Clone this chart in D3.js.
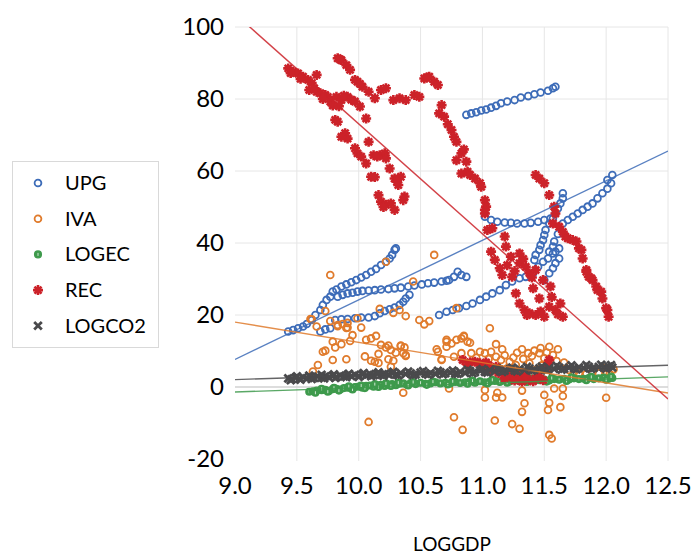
<!DOCTYPE html>
<html>
<head>
<meta charset="utf-8">
<script src="https://cdn.jsdelivr.net/npm/d3@7"></script>
<style>
  body { margin: 0; background: #fff; }
  text { font-family: Lato, "Open Sans", sans-serif; fill: #000; }
</style>
</head>
<body>
<svg id="scatter" width="695" height="557"></svg>
<script>
// series names (legend order)
var seriesNames = ["UPG", "IVA", "LOGEC", "REC", "LOGCO2"];

var xTicks = [9.0, 9.5, 10.0, 10.5, 11.0, 11.5, 12.0, 12.5];
var yTicks = [-20, 0, 20, 40, 60, 80, 100];

// UPG points [LOGGDP, value]
var upgPoints = [
  [9.43,15.4],[9.47,15.8],[9.51,16.3],[9.55,16.8],[9.58,17.5],[9.62,18.6],[9.65,20.0],[9.69,21.4],[9.71,22.8],
  [9.74,24.2],[9.77,25.1],[9.79,26.5],[9.82,27.1],[9.86,27.9],[9.90,28.5],[9.94,29.1],[9.98,29.7],[10.02,30.4],
  [10.06,31.1],[10.10,32.0],[10.14,32.8],[10.18,33.9],[10.22,34.8],[10.25,35.7],[10.27,36.7],[10.29,38.1],[10.30,38.5],
  [9.83,25.1],[9.87,25.6],[9.91,26.0],[9.95,26.2],[9.99,26.5],[10.03,26.7],[10.08,26.8],[10.13,26.9],[10.18,27.1],
  [10.24,27.2],[10.29,27.4],[10.34,27.6],[10.40,27.9],[10.45,28.2],[10.51,28.5],[10.56,28.8],[10.61,29.0],[10.67,29.3],
  [10.71,29.5],[10.73,29.7],[10.77,30.6],[10.80,32.0],[10.83,31.1],[10.87,30.6],
  [9.69,15.4],[9.73,16.0],[9.77,16.3],[9.81,18.6],[9.86,18.8],[9.91,18.9],[9.97,19.1],[10.02,19.3],[10.08,19.3],
  [10.13,19.7],[10.17,20.5],[10.21,21.1],[10.25,21.6],[10.29,22.1],[10.33,22.8],[10.36,23.7],[10.38,24.6],[10.41,25.6],
  [10.65,20.0],[10.71,20.9],[10.76,21.4],[10.81,21.9],[10.87,22.5],[10.92,23.2],[10.98,24.2],[11.03,25.1],[11.08,26.0],
  [11.14,26.9],[11.19,28.3],[11.24,29.3],[11.30,30.2],[11.35,30.6],[11.41,31.6],[11.45,33.4],[11.49,34.8],[11.53,35.7],
  [11.57,37.1],[11.59,37.6],[11.62,38.5],
  [11.42,35.3],[11.43,36.7],[11.46,38.1],[11.47,39.4],[11.49,40.8],[11.50,42.2],[11.51,43.6],[11.54,45.4],[11.57,46.8],
  [11.59,48.2],[11.61,49.6],[11.63,51.0],[11.65,52.4],[11.65,53.8],
  [11.50,29.7],[11.54,31.6],[11.57,33.0],[11.59,34.4],[11.62,35.7],[11.54,37.6],[11.57,39.0],[11.58,40.4],[11.61,42.5],
  [11.65,45.4],[11.69,46.4],[11.73,47.3],[11.77,48.2],[11.81,49.2],[11.85,50.1],[11.89,51.0],[11.93,52.4],[11.97,53.8],
  [12.01,55.1],[12.04,56.6],[12.01,57.5],[12.05,58.9],
  [11.02,47.3],[11.07,46.4],[11.12,45.9],[11.18,45.7],[11.23,45.6],[11.28,45.4],[11.34,45.4],[11.39,45.6],[11.45,45.9],
  [11.50,46.4],[11.55,46.8],
  [10.87,75.6],[10.91,76.0],[10.95,76.3],[10.99,76.8],[11.03,77.1],[11.07,77.6],[11.11,78.1],[11.15,78.8],[11.20,79.3],
  [11.26,79.7],[11.31,80.4],[11.37,80.8],[11.42,81.3],[11.47,81.8],[11.53,82.3],[11.57,83.0],[11.59,83.4]
];

// IVA points
var ivaPoints = [
  [9.77,31.1],[10.61,36.7],[10.22,34.8],[10.44,29.3],[9.73,21.1],[9.62,18.8],[9.66,16.8],[9.77,18.3],[9.99,19.1],
  [10.02,16.5],[10.17,21.7],[10.28,20.6],[10.33,21.4],[10.38,19.7],[10.49,18.6],[10.53,17.4],[10.57,18.3],[9.83,16.9],
  [9.87,17.5],[9.91,16.5],[9.95,14.4],[9.93,12.8],[9.86,11.9],[9.81,11.0],[9.73,10.1],[9.71,9.8],[10.06,13.1],
  [10.10,13.5],[10.14,14.2],[10.18,11.7],[10.22,11.0],[10.26,10.3],[10.30,9.5],[10.34,11.4],[10.37,11.0],[10.36,9.4],
  [10.38,8.6],[10.24,7.7],[10.28,7.3],[10.26,5.6],[10.16,9.2],[10.05,8.5],[10.10,7.3],[10.13,7.0],[10.16,6.7],
  [9.90,7.7],[9.79,7.5],[9.67,6.1],[9.63,4.3],[10.36,-1.6],[10.08,-9.7],[10.63,10.5],[10.67,7.7],[10.71,13.1],
  [9.90,16.4],[9.91,17.8],[9.83,17.2],[9.61,18.9],[9.79,12.6],[10.24,11.5],[10.34,11.5],[10.38,8.9],
  [10.79,21.9],[10.85,14.0],[10.88,12.6],[10.77,-8.4],[10.84,-11.9],[10.73,-0.4],
  [11.06,16.3],[10.64,9.8],[10.71,12.6],[10.71,11.2],[10.75,12.1],[10.79,13.1],[10.83,13.5],[10.85,14.2],[10.90,12.3],
  [10.67,7.5],[10.77,8.4],[10.83,9.4],[10.91,9.4],[10.98,9.8],[11.02,9.4],[11.07,9.8],[11.11,11.9],[11.16,10.5],
  [11.11,8.4],[11.15,7.5],[11.22,7.0],[11.28,9.5],[11.32,10.5],[11.37,9.4],[11.42,10.1],[11.46,9.4],[11.54,11.2],
  [11.61,10.5],[11.50,8.0],[11.57,8.9],[11.38,6.6],[11.27,6.1],[11.43,4.7],[11.70,4.7],[11.78,3.8],[11.89,4.3],
  [11.94,3.8],[12.06,4.9],[12.00,4.3],[11.02,-0.8],[11.02,-2.9],[11.12,-1.6],[11.16,-2.9],[11.11,-2.9],[11.32,-1.0],
  [11.34,-4.5],[11.32,-6.9],[11.50,-2.2],[11.54,-4.4],[11.53,-6.4],[11.58,-0.4],[11.65,-0.4],[11.65,-2.5],[11.63,-5.6],
  [12.00,-3.0],[11.10,-9.3],[11.24,-10.3],[11.30,-11.6],[11.54,-13.3],[11.56,-14.3],[11.35,3.8],[11.20,5.2],[11.48,6.0],
  [11.18,8.8],[11.25,8.2],[11.33,7.8],[11.40,8.6],[11.47,10.8],[11.52,9.6],[11.60,7.2],[11.05,7.8],[10.95,8.1],
  [11.74,4.2],[11.84,3.6],[11.98,5.2],[12.03,3.6],[11.66,6.8]
];

// LOGEC points
var logecPoints = [
  [9.60,-1.3],[9.63,-1.2],[9.66,-1.0],[9.70,-0.9],[9.73,-0.8],[9.76,-1.1],[9.79,-0.6],[9.82,-0.5],[9.85,-0.7],
  [9.88,-0.3],[9.91,-0.2],[9.94,-0.4],[9.97,0.0],[10.00,0.1],[10.03,-0.2],[10.06,0.3],[10.09,0.4],[10.12,0.1],
  [10.15,0.5],[10.18,0.6],[10.21,0.3],[10.24,0.7],[10.27,0.8],[10.30,0.5],[10.33,0.9],[10.36,1.0],[10.39,0.6],
  [10.42,1.1],[10.46,0.8],[10.50,1.2],[10.54,0.9],[10.58,1.0],[10.62,1.3],[10.66,1.0],[10.70,1.2],[10.74,1.0],
  [10.78,1.4],[10.82,1.1],[10.86,1.3],[10.90,1.5],[10.94,1.2],[10.98,1.6],[11.02,1.3],[11.06,1.5],[11.10,1.7],
  [11.14,1.4],[11.18,1.8],[11.22,1.5],[11.26,1.9],[11.30,1.6],[11.34,1.7],[11.38,2.0],[11.42,1.8],[11.46,1.9],
  [11.50,2.1],[11.54,1.8],[11.58,2.2],[11.62,2.0],[11.66,2.3],[11.70,2.1],[11.74,2.4],[11.78,2.2],[11.82,2.3],
  [11.86,2.5],[11.90,2.2],[11.94,2.4],[11.98,2.6],[12.02,2.3],[12.05,2.5],
  [9.65,-1.6],[9.75,-1.3],[9.84,-1.0],[9.95,-0.7],[10.05,-0.3],[10.16,0.0],[10.26,0.3],[10.40,0.4],[10.55,0.6],
  [10.72,0.7],[10.88,0.9],[11.04,1.0],[11.20,1.2],[11.36,1.4],[11.52,1.5],[11.68,1.7],[11.84,1.9],[12.00,2.0],
  [9.70,-0.5],[9.80,-0.2],[9.92,0.2],[10.02,0.4],[10.13,0.8],[10.22,1.0],[10.32,1.2],[10.44,1.4],[10.60,1.5],
  [10.76,1.6],[10.92,1.8],[11.08,2.0],[11.24,2.2],[11.40,2.4],[11.56,2.5],[11.72,2.7],[11.88,2.8],[12.04,2.9]
];

// REC points
var recPoints = [
  [9.43,88.5],[9.47,87.6],[9.51,87.1],[9.55,86.2],[9.59,85.3],[9.62,84.4],[9.60,82.5],[9.66,82.0],[9.69,81.6],
  [9.73,81.1],[9.75,80.6],[9.77,79.3],[9.66,86.7],[9.82,80.6],[9.86,79.7],[9.91,80.6],[9.45,87.2],[9.53,85.6],
  [9.64,83.0],[9.71,80.0],[9.79,78.2],[9.84,78.0],[9.88,80.9],[9.94,79.8],
  [9.83,91.3],[9.86,90.8],[9.90,89.4],[9.93,88.1],[9.97,85.3],[9.99,84.8],[10.03,83.4],[10.08,82.0],[10.13,80.2],
  [10.18,82.5],[10.22,83.0],[10.28,79.7],[10.33,80.2],[10.38,79.7],[10.45,81.1],[10.49,80.6],[10.53,85.7],[10.57,86.2],
  [10.61,84.8],[10.64,83.9],[9.97,79.3],[10.01,77.9],[9.85,91.0],[10.01,84.2],[10.55,86.0],
  [10.67,78.3],[10.65,76.0],[10.69,75.1],[10.75,71.4],[10.77,69.5],[10.79,68.1],[10.83,64.9],[10.79,63.0],[10.87,62.6],
  [10.83,59.3],[10.88,59.8],[10.90,58.9],[10.94,57.9],[10.98,56.6],[10.99,55.6],[11.02,51.9],[11.03,50.1],[11.02,48.2],
  [11.02,49.2],[11.04,43.6],[11.08,44.1],[11.18,41.8],[11.19,39.0],[11.07,37.6],[11.10,35.3],[11.14,33.0],[11.16,31.1],
  [11.24,30.6],[11.23,36.2],[11.30,37.1],[11.30,34.4],[11.35,33.4],[11.38,31.6],[11.43,32.5],[11.41,27.4],[11.27,26.0],
  [11.30,23.2],[11.34,21.4],[11.38,20.5],[11.43,20.0],[11.50,19.5],[11.54,22.3],[11.55,27.9],[11.59,21.4],[11.63,23.2],
  [11.65,19.5],[11.49,29.7],[11.46,24.6],[11.20,33.8],[11.26,32.2],[11.33,35.6],[11.40,30.4],[11.36,20.0],[11.47,21.0],
  [11.56,25.0],[11.61,20.2],[10.85,66.0],[10.72,73.0],
  [11.43,58.9],[11.46,57.9],[11.50,56.6],[11.54,53.3],[11.58,50.1],[11.59,48.2],[11.57,45.4],[11.62,44.5],[11.67,41.8],
  [11.65,43.1],[11.69,41.3],[11.76,40.4],[11.78,38.5],[11.81,35.7],[11.84,32.5],[11.86,30.6],[11.89,29.7],[11.92,27.9],
  [11.96,26.5],[11.97,24.6],[12.01,21.4],[12.02,19.5],[11.73,40.8],[11.80,38.1],[11.84,32.0],[11.88,30.2],[11.93,26.9],
  [12.00,21.9],
  [9.81,74.2],[9.83,73.7],[10.06,74.6],[9.89,70.5],[9.91,69.0],[9.86,69.5],[9.97,66.3],[9.99,64.9],[10.02,64.0],
  [10.06,62.1],[10.08,68.1],[10.12,64.4],[10.17,64.4],[10.21,64.9],[10.22,63.5],[10.25,60.7],[10.10,58.4],[10.13,58.3],
  [10.29,57.9],[10.34,58.4],[10.32,56.1],[10.16,53.3],[10.18,51.5],[10.22,50.6],[10.26,51.0],[10.29,49.2],[10.36,51.9],
  [10.37,52.9],[10.15,64.0],[10.31,57.0],[10.20,50.0],
  [10.84,7.5],[10.90,6.9],[10.98,6.6],[11.05,6.0],[11.11,5.6],[11.19,3.3],[11.24,2.9],[11.32,1.5],[11.38,1.9],
  [11.43,2.4],[11.49,1.9],[11.53,6.6],[11.54,7.5],[11.28,3.6],[11.15,4.4],[10.88,6.2],[10.94,7.0],[11.00,5.4],
  [11.08,4.6],[11.13,3.9],[11.22,4.1],[11.30,2.6],[11.35,3.2],[11.41,1.6],[11.46,3.0],[11.52,5.2],[11.18,2.4],
  [11.26,1.8],[11.03,6.8]
];

// LOGCO2 points
var logco2Points = [
  [9.43,2.4],[9.46,2.2],[9.49,2.6],[9.52,2.3],[9.55,2.7],[9.58,2.4],[9.61,2.8],[9.64,2.5],[9.67,2.9],[9.70,2.6],
  [9.73,3.0],[9.76,2.7],[9.79,3.1],[9.82,2.8],[9.85,3.2],[9.88,2.9],[9.91,3.3],[9.94,3.0],[9.97,3.4],[10.00,3.1],
  [10.03,3.5],[10.06,3.2],[10.09,3.6],[10.12,3.3],[10.15,3.7],[10.18,3.4],[10.21,3.6],[10.24,3.5],[10.27,3.8],
  [10.30,3.4],[10.34,3.9],[10.38,3.6],[10.42,3.8],[10.46,3.5],[10.50,4.0],[10.54,3.7],[10.58,3.9],[10.62,3.6],
  [10.66,4.1],[10.70,3.8],[10.74,4.0],[10.78,3.7],[10.82,4.2],[10.86,3.9],[10.90,4.4],[10.94,4.1],[10.98,4.6],
  [11.02,4.2],[11.06,4.7],[11.10,4.4],[11.14,4.8],[11.18,4.5],[11.22,4.9],[11.26,4.6],[11.30,5.0],[11.34,4.7],
  [11.38,5.1],[11.42,4.8],[11.46,5.2],[11.50,4.9],[11.54,5.3],[11.58,5.0],[11.62,5.4],[11.66,5.1],[11.70,5.4],
  [11.74,5.2],[11.78,5.5],[11.82,5.2],[11.86,5.6],[11.90,5.3],[11.94,5.6],[11.98,5.4],[12.02,5.7],[12.05,5.4],
  [9.45,1.9],[9.53,2.0],[9.62,2.2],[9.72,2.4],[9.81,2.5],[9.90,2.7],[10.00,2.8],[10.10,3.0],[10.20,3.1],
  [10.32,3.2],[10.44,3.3],[10.56,3.4],[10.68,3.5],[10.80,3.6],[10.92,3.8],[11.04,4.0],[11.16,4.2],[11.28,4.3],
  [11.40,4.5],[11.52,4.6],[11.64,4.8],[11.76,4.9],[11.88,5.0],[12.00,5.1],
  [9.50,3.0],[9.60,3.2],[9.70,3.4],[9.80,3.5],[9.92,3.7],[10.04,3.9],[10.16,4.1],[10.28,4.2],[10.40,4.3],
  [10.52,4.4],[10.64,4.5],[10.76,4.6],[10.88,4.8],[11.00,5.0],[11.12,5.2],[11.24,5.4],[11.36,5.6],[11.48,5.7],
  [11.60,5.9],[11.72,6.0],[11.84,6.1],[11.96,6.2],[12.04,6.1]
];

// linear trendlines: value = intercept + slope * LOGGDP
var trendIntercept = [-141.2, 68.7, -12.2, 378.7, -8.2];
var trendSlope = [16.54, -5.63, 1.2, -30.56, 1.14];

var colors = ["#3d6cb8", "#e07b2c", "#3e9a4c", "#cc2229", "#4a4a4c"];
var allPoints = [upgPoints, ivaPoints, logecPoints, recPoints, logco2Points];

var svg = d3.select("#scatter");

var x = d3.scaleLinear().domain([9, 12.5]).range([235, 668]);
var y = d3.scaleLinear().domain([-20, 100]).range([459, 27]);

// clip for the trendlines
svg.append("clipPath").attr("id", "plotclip")
  .append("rect")
  .attr("x", x(9)).attr("y", y(100))
  .attr("width", x(12.5) - x(9)).attr("height", y(-20) - y(100));

// gridlines
svg.append("g")
  .selectAll("line.vg")
  .data(xTicks.slice(1))
  .join("line")
  .attr("x1", d => x(d)).attr("x2", d => x(d))
  .attr("y1", y(100)).attr("y2", y(-20) + 2)
  .attr("stroke", "#e6e6e6").attr("stroke-width", 1);

svg.append("g")
  .selectAll("line.hg")
  .data(yTicks.filter(d => d != -20))
  .join("line")
  .attr("x1", x(9)).attr("x2", x(12.5))
  .attr("y1", d => y(d)).attr("y2", d => y(d))
  .attr("stroke", d => d == 0 ? "#d2d2d2" : "#e6e6e6")
  .attr("stroke-width", d => d == 0 ? 1.5 : 1);

// tick labels
svg.append("g")
  .selectAll("text")
  .data(yTicks)
  .join("text")
  .attr("x", 224)
  .attr("y", d => y(d))
  .attr("dy", "0.35em")
  .attr("text-anchor", "end")
  .style("font-size", "24px")
  .text(d => d);

svg.append("g")
  .selectAll("text")
  .data(xTicks)
  .join("text")
  .attr("x", d => x(d))
  .attr("y", 494)
  .attr("text-anchor", "middle")
  .style("font-size", "24px")
  .text(d => d3.format(".1f")(d));

// axis title
svg.append("text")
  .attr("x", 452).attr("y", 551)
  .attr("text-anchor", "middle")
  .style("font-size", "19px")
  .text("LOGGDP");

// marker drawers
function asterisk(r) {
  var p = "";
  [0, 45, 90, 135].forEach(function(a) {
    var c = Math.cos(a * Math.PI / 180) * r, s = Math.sin(a * Math.PI / 180) * r;
    p += "M" + (-c) + "," + (-s) + "L" + c + "," + s;
  });
  return p;
}
function cross(r) {
  return "M" + (-r) + "," + (-r) + "L" + r + "," + r + "M" + (-r) + "," + r + "L" + r + "," + (-r);
}

function drawMarker(g, i, cx, cy) {
  if (i == 0 || i == 1) {
    g.append("circle").attr("cx", cx).attr("cy", cy).attr("r", 3.4)
      .attr("fill", "none").attr("stroke", colors[i]).attr("stroke-width", 1.8);
  } else if (i == 2) {
    g.append("circle").attr("cx", cx).attr("cy", cy).attr("r", 3.4)
      .attr("fill", colors[i]).attr("stroke", colors[i]).attr("stroke-width", 1.3);
    g.append("line").attr("x1", cx).attr("x2", cx).attr("y1", cy - 1.5).attr("y2", cy + 1.5)
      .attr("stroke", "#cfe6d2").attr("stroke-width", 1);
  } else if (i == 3) {
    g.append("path").attr("transform", "translate(" + cx + "," + cy + ")")
      .attr("d", asterisk(5))
      .attr("stroke", colors[i]).attr("stroke-width", 2.6).attr("fill", "none");
  } else {
    g.append("path").attr("transform", "translate(" + cx + "," + cy + ")")
      .attr("d", cross(3.8))
      .attr("stroke", colors[i]).attr("stroke-width", 2.8).attr("fill", "none");
  }
}

// the points
allPoints.forEach(function(pts, i) {
  var g = svg.append("g");
  pts.forEach(function(d) { drawMarker(g, i, x(d[0]), y(d[1])); });
});

// trendlines
var trend = svg.append("g").attr("clip-path", "url(#plotclip)");
seriesNames.forEach(function(name, i) {
  trend.append("line")
    .attr("x1", x(9)).attr("x2", x(12.5))
    .attr("y1", y(trendIntercept[i] + trendSlope[i] * 9))
    .attr("y2", y(trendIntercept[i] + trendSlope[i] * 12.5))
    .attr("stroke", colors[i]).attr("stroke-width", 1.4).attr("opacity", 0.85);
});

// legend
var legend = svg.append("g");
legend.append("rect")
  .attr("x", 12.5).attr("y", 161.5).attr("width", 146).attr("height", 186)
  .attr("fill", "#fff").attr("stroke", "#d9d9d9");
seriesNames.forEach(function(name, i) {
  var cy = 183 + i * 35.7;
  drawMarker(legend, i, 38, cy);
  legend.append("text")
    .attr("x", 65).attr("y", cy + 7)
    .style("font-size", "20px")
    .text(name);
});
</script>
</body>
</html>
